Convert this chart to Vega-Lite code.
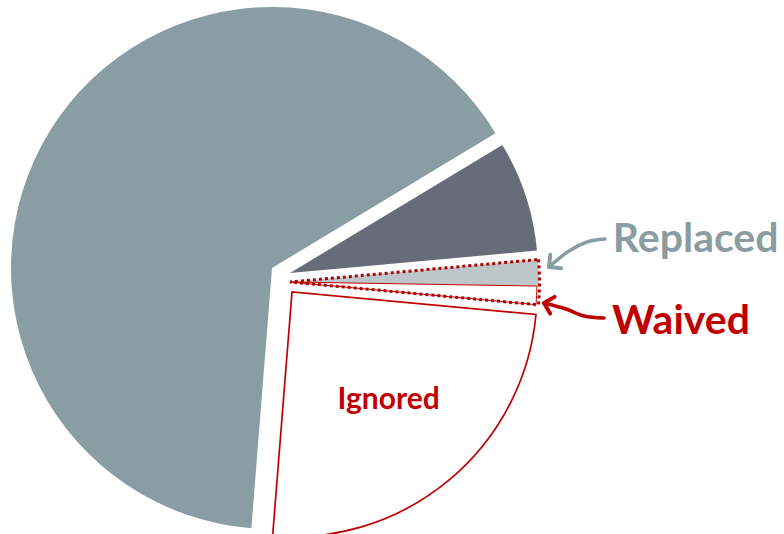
{
  "$schema": "https://vega.github.io/schema/vega-lite/v6.json",
  "width": 784,
  "height": 534,
  "autosize": {"type": "none"},
  "padding": 0,
  "background": "white",
  "config": {"view": {"stroke": null}},
  "datasets": {
    "slices": [
      {"category": "Unlabeled dark", "value": 7.2, "order": 1},
      {"category": "Replaced", "value": 1.7, "order": 2},
      {"category": "Waived", "value": 1.2, "order": 3},
      {"category": "Ignored", "value": 24.8, "order": 4},
      {"category": "Unlabeled large", "value": 65.1, "order": 5}
    ],
    "arrows": [
      {"arrow": "Replaced", "seq": 1, "x": 333, "y": 29},
      {"arrow": "Replaced", "seq": 2, "x": 315, "y": 26},
      {"arrow": "Replaced", "seq": 3, "x": 297, "y": 17},
      {"arrow": "Replaced", "seq": 4, "x": 277, "y": 1},
      {"arrow": "Waived", "seq": 1, "x": 332, "y": -50},
      {"arrow": "Waived", "seq": 2, "x": 312, "y": -48},
      {"arrow": "Waived", "seq": 3, "x": 294, "y": -41},
      {"arrow": "Waived", "seq": 4, "x": 272, "y": -35}
    ]
  },
  "layer": [
    {
      "data": {"name": "slices"},
      "transform": [
        {"stack": "value", "sort": [{"field": "order"}], "groupby": [], "as": ["v0", "v1"]},
        {"filter": "datum.category === 'Unlabeled large'"}
      ],
      "mark": {"type": "arc", "radius": 261, "fill": "#8A9DA2"},
      "encoding": {
        "theta": {"field": "v0", "type": "quantitative", "scale": {"domain": [0, 100], "range": [1.028, 7.3112]}},
        "theta2": {"field": "v1"},
        "x": {"datum": 0, "type": "quantitative", "scale": {"domain": [-272, 512], "nice": false, "zero": false}, "axis": null},
        "y": {"datum": 0, "type": "quantitative", "scale": {"domain": [-266, 268], "nice": false, "zero": false}, "axis": null}
      }
    },
    {
      "data": {"name": "slices"},
      "transform": [
        {"stack": "value", "sort": [{"field": "order"}], "groupby": [], "as": ["v0", "v1"]},
        {"filter": "datum.category === 'Unlabeled dark'"}
      ],
      "mark": {"type": "arc", "radius": 248, "fill": "#686C78"},
      "encoding": {
        "theta": {"field": "v0", "type": "quantitative", "scale": {"domain": [0, 100], "range": [1.028, 7.3112]}},
        "theta2": {"field": "v1"},
        "x": {"datum": 18, "type": "quantitative", "scale": {"domain": [-272, 512], "nice": false, "zero": false}, "axis": null},
        "y": {"datum": -5, "type": "quantitative", "scale": {"domain": [-266, 268], "nice": false, "zero": false}, "axis": null}
      }
    },
    {
      "data": {"name": "slices"},
      "transform": [
        {"stack": "value", "sort": [{"field": "order"}], "groupby": [], "as": ["v0", "v1"]},
        {"filter": "datum.category === 'Replaced'"}
      ],
      "mark": {"type": "arc", "radius": 249, "fill": "#BDC6C8"},
      "encoding": {
        "theta": {"field": "v0", "type": "quantitative", "scale": {"domain": [0, 100], "range": [1.028, 7.3112]}},
        "theta2": {"field": "v1"},
        "x": {"datum": 18, "type": "quantitative", "scale": {"domain": [-272, 512], "nice": false, "zero": false}, "axis": null},
        "y": {"datum": -14, "type": "quantitative", "scale": {"domain": [-266, 268], "nice": false, "zero": false}, "axis": null}
      }
    },
    {
      "data": {"name": "slices"},
      "transform": [
        {"stack": "value", "sort": [{"field": "order"}], "groupby": [], "as": ["v0", "v1"]},
        {"filter": "datum.category === 'Waived'"}
      ],
      "mark": {"type": "arc", "radius": 247, "fill": "white", "stroke": "#C00000", "strokeWidth": 1},
      "encoding": {
        "theta": {"field": "v0", "type": "quantitative", "scale": {"domain": [0, 100], "range": [1.028, 7.3112]}},
        "theta2": {"field": "v1"},
        "x": {"datum": 18, "type": "quantitative", "scale": {"domain": [-272, 512], "nice": false, "zero": false}, "axis": null},
        "y": {"datum": -14, "type": "quantitative", "scale": {"domain": [-266, 268], "nice": false, "zero": false}, "axis": null}
      }
    },
    {
      "data": {"name": "slices"},
      "transform": [
        {"stack": "value", "sort": [{"field": "order"}], "groupby": [], "as": ["v0", "v1"]},
        {"filter": "datum.category === 'Replaced' || datum.category === 'Waived'"},
        {"aggregate": [{"op": "min", "field": "v0", "as": "s0"}, {"op": "max", "field": "v1", "as": "s1"}]}
      ],
      "mark": {"type": "arc", "radius": 249.5, "filled": false, "stroke": "#B00000", "strokeWidth": 3, "strokeDash": [3, 3]},
      "encoding": {
        "theta": {"field": "s0", "type": "quantitative", "scale": {"domain": [0, 100], "range": [1.028, 7.3112]}},
        "theta2": {"field": "s1"},
        "x": {"datum": 18, "type": "quantitative", "scale": {"domain": [-272, 512], "nice": false, "zero": false}, "axis": null},
        "y": {"datum": -14, "type": "quantitative", "scale": {"domain": [-266, 268], "nice": false, "zero": false}, "axis": null}
      }
    },
    {
      "data": {"name": "slices"},
      "transform": [
        {"stack": "value", "sort": [{"field": "order"}], "groupby": [], "as": ["v0", "v1"]},
        {"filter": "datum.category === 'Ignored'"}
      ],
      "mark": {"type": "arc", "radius": 245, "fill": "white", "stroke": "#C00000", "strokeWidth": 1.7},
      "encoding": {
        "theta": {"field": "v0", "type": "quantitative", "scale": {"domain": [0, 100], "range": [1.028, 7.3112]}},
        "theta2": {"field": "v1"},
        "x": {"datum": 20, "type": "quantitative", "scale": {"domain": [-272, 512], "nice": false, "zero": false}, "axis": null},
        "y": {"datum": -24, "type": "quantitative", "scale": {"domain": [-266, 268], "nice": false, "zero": false}, "axis": null}
      }
    },
    {
      "data": {"name": "slices"},
      "mark": {"type": "text", "radius": 150, "dy": 2, "align": "center", "baseline": "alphabetic", "font": "Lato", "fontWeight": "bold", "fontSize": 30, "fill": "#C00000"},
      "encoding": {
        "theta": {"field": "value", "type": "quantitative", "stack": true, "scale": {"domain": [0, 100], "range": [1.028, 7.3112]}},
        "order": {"field": "order"},
        "text": {"condition": {"test": "datum.category === 'Ignored'", "field": "category", "type": "nominal"}, "value": ""},
        "x": {"datum": 20, "type": "quantitative", "scale": {"domain": [-272, 512], "nice": false, "zero": false}, "axis": null},
        "y": {"datum": -24, "type": "quantitative", "scale": {"domain": [-266, 268], "nice": false, "zero": false}, "axis": null}
      }
    },
    {
      "data": {"name": "slices"},
      "mark": {"type": "text", "radius": 323, "dy": -18, "align": "left", "baseline": "alphabetic", "font": "Lato", "fontWeight": "bold", "fontSize": 41, "fill": "#8A9DA2"},
      "encoding": {
        "theta": {"field": "value", "type": "quantitative", "stack": true, "scale": {"domain": [0, 100], "range": [1.028, 7.3112]}},
        "order": {"field": "order"},
        "text": {"condition": {"test": "datum.category === 'Replaced'", "field": "category", "type": "nominal"}, "value": ""},
        "x": {"datum": 18, "type": "quantitative", "scale": {"domain": [-272, 512], "nice": false, "zero": false}, "axis": null},
        "y": {"datum": -14, "type": "quantitative", "scale": {"domain": [-266, 268], "nice": false, "zero": false}, "axis": null}
      }
    },
    {
      "data": {"name": "slices"},
      "mark": {"type": "text", "radius": 322.5, "dy": 35, "align": "left", "baseline": "alphabetic", "font": "Lato", "fontWeight": "bold", "fontSize": 41, "fill": "#C00000"},
      "encoding": {
        "theta": {"field": "value", "type": "quantitative", "stack": true, "scale": {"domain": [0, 100], "range": [1.028, 7.3112]}},
        "order": {"field": "order"},
        "text": {"condition": {"test": "datum.category === 'Waived'", "field": "category", "type": "nominal"}, "value": ""},
        "x": {"datum": 18, "type": "quantitative", "scale": {"domain": [-272, 512], "nice": false, "zero": false}, "axis": null},
        "y": {"datum": -14, "type": "quantitative", "scale": {"domain": [-266, 268], "nice": false, "zero": false}, "axis": null}
      }
    },
    {
      "data": {"name": "arrows"},
      "mark": {"type": "line", "interpolate": "cardinal", "strokeWidth": 3.5, "strokeCap": "round"},
      "encoding": {
        "x": {"field": "x", "type": "quantitative", "scale": {"domain": [-272, 512], "nice": false, "zero": false}, "axis": null},
        "y": {"field": "y", "type": "quantitative", "scale": {"domain": [-266, 268], "nice": false, "zero": false}, "axis": null},
        "order": {"field": "seq"},
        "color": {"field": "arrow", "type": "nominal", "scale": {"domain": ["Replaced", "Waived"], "range": ["#8A9DA2", "#C00000"]}, "legend": null}
      }
    },
    {
      "data": {"name": "arrows"},
      "transform": [{"filter": "datum.arrow === 'Replaced' && datum.seq === 4"}],
      "mark": {"type": "point", "shape": "M-1,-1L0,0L-1,1", "filled": false, "stroke": "#8A9DA2", "strokeWidth": 4, "size": 300, "angle": 141, "strokeCap": "round", "strokeJoin": "round", "opacity": 1},
      "encoding": {
        "x": {"field": "x", "type": "quantitative", "scale": {"domain": [-272, 512], "nice": false, "zero": false}, "axis": null},
        "y": {"field": "y", "type": "quantitative", "scale": {"domain": [-266, 268], "nice": false, "zero": false}, "axis": null}
      }
    },
    {
      "data": {"name": "arrows"},
      "transform": [{"filter": "datum.arrow === 'Waived' && datum.seq === 4"}],
      "mark": {"type": "point", "shape": "M-1,-1L0,0L-1,1", "filled": false, "stroke": "#C00000", "strokeWidth": 4, "size": 300, "angle": 195, "strokeCap": "round", "strokeJoin": "round", "opacity": 1},
      "encoding": {
        "x": {"field": "x", "type": "quantitative", "scale": {"domain": [-272, 512], "nice": false, "zero": false}, "axis": null},
        "y": {"field": "y", "type": "quantitative", "scale": {"domain": [-266, 268], "nice": false, "zero": false}, "axis": null}
      }
    }
  ]
}
